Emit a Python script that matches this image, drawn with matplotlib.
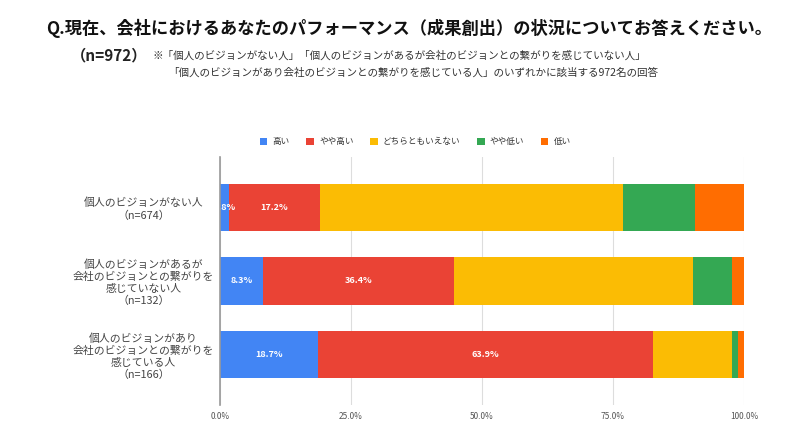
import matplotlib
matplotlib.use("Agg")
import matplotlib.pyplot as plt
import numpy as np

plt.rcParams['font.family'] = ['Noto Sans CJK JP', 'DejaVu Sans']

categories = [
    "個人のビジョンがない人\n（n=674）",
    "個人のビジョンがあるが\n会社のビジョンとの繋がりを\n感じていない人\n（n=132）",
    "個人のビジョンがあり\n会社のビジョンとの繋がりを\n感じている人\n（n=166）",
]
series_names = ["高い", "やや高い", "どちらともいえない", "やや低い", "低い"]
high = [1.8, 8.3, 18.7]
somewhat_high = [17.2, 36.4, 63.9]
neutral = [57.9, 45.5, 15.1]
somewhat_low = [13.7, 7.5, 1.2]
low = [9.4, 2.3, 1.1]
series = [high, somewhat_high, neutral, somewhat_low, low]
colors = ["#4285F4", "#EA4335", "#FBBC04", "#34A853", "#FF6D01"]
labeled = [0, 1]
xticks = [0, 25, 50, 75, 100]

fig = plt.figure(figsize=(8, 4.38), dpi=100)
ax = fig.add_axes([0.275, 0.0753, 0.655, 0.5663])

y = np.arange(len(categories))
left = np.zeros(len(categories))
handles = []
for i, (name, vals, c) in enumerate(zip(series_names, series, colors)):
    vals = np.array(vals, dtype=float)
    b = ax.barh(y, vals, left=left, height=0.64, color=c, label=name, zorder=3)
    handles.append(b)
    if i in labeled:
        for yi, (l, v) in enumerate(zip(left, vals)):
            ax.text(l + v / 2, yi, f"{v:.1f}%", ha='center', va='center',
                    color='white', fontsize=6.5, fontweight='bold', zorder=4)
    left += vals

ax.set_xlim(0, 100)
ax.set_ylim(2.68, -0.68)
ax.set_yticks(y)
ax.set_yticklabels(categories, fontsize=7.8, color='#444444', ha='center', linespacing=1.22)
ax.tick_params(axis='y', length=0, pad=55)
ax.set_xticks(xticks)
ax.set_xticklabels([f"{t:.1f}%" for t in xticks], fontsize=6, color='#555555')
ax.tick_params(axis='x', length=0, pad=5)
ax.grid(axis='x', color='#dddddd', linewidth=0.8, zorder=0)
for s in ['top', 'right', 'bottom']:
    ax.spines[s].set_visible(False)
ax.spines['left'].set_color('#999999')
ax.spines['left'].set_linewidth(1.2)
ax.spines['left'].set_zorder(5)

fig.legend(handles=handles, labels=series_names, loc='center', bbox_to_anchor=(0.519, 0.676),
           ncol=5, frameon=False, fontsize=6.2, handlelength=0.9, handleheight=0.9,
           columnspacing=1.9, handletextpad=0.6, labelcolor='#333333')

fig.text(0.511, 0.936, "Q.現在、会社におけるあなたのパフォーマンス（成果創出）の状況についてお答えください。",
         ha='center', va='center', fontsize=12.4, fontweight='bold', color='#111111')
fig.text(0.088, 0.874, "（n=972）", ha='left', va='center', fontsize=11, fontweight='bold', color='#222222')
fig.text(0.19, 0.874, "※「個人のビジョンがない人」「個人のビジョンがあるが会社のビジョンとの繋がりを感じていない人」",
         ha='left', va='center', fontsize=7.6, color='#333333')
fig.text(0.21, 0.834, "「個人のビジョンがあり会社のビジョンとの繋がりを感じている人」のいずれかに該当する972名の回答",
         ha='left', va='center', fontsize=7.6, color='#333333')

fig.savefig("out.png", dpi=100)
